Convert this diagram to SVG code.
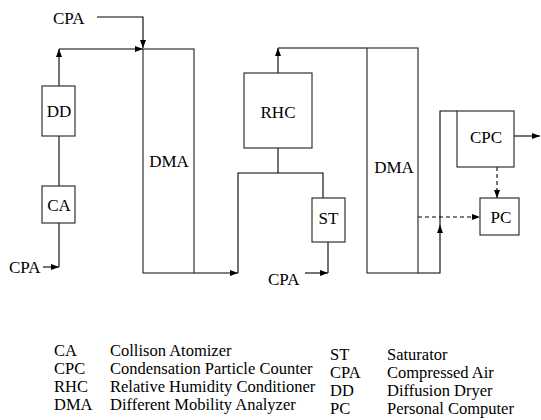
<svg xmlns="http://www.w3.org/2000/svg" width="541" height="420" viewBox="0 0 541 420">
<defs>
<style>
text{font-family:"Liberation Serif","Times New Roman",serif;fill:#000}
.lbl{font-size:17px;text-anchor:middle}
.lab{font-size:17px}
.leg{font-size:16.5px}
.box{fill:#fff;stroke:#333;stroke-width:1.2}
.ln{fill:none;stroke:#000;stroke-width:1.1}
.dash{fill:none;stroke:#000;stroke-width:1.1;stroke-dasharray:4,3}
</style>
<marker id="ah" viewBox="0 0 8 6" refX="8" refY="3" markerWidth="8" markerHeight="6" orient="auto" markerUnits="userSpaceOnUse"><path d="M0,0 L8,3 L0,6 z" fill="#000"/></marker>
</defs>
<rect width="541" height="420" fill="#fff"/>
<g id="connectors">
<path class="ln" d="M97,17 H143 V48" marker-end="url(#ah)"/>
<path class="ln" d="M59,86 V49" marker-end="url(#ah)"/>
<path class="ln" d="M59,49 H143" marker-end="url(#ah)"/>
<path class="ln" d="M59,136 V186"/>
<path class="ln" d="M59,223 V267"/>
<path class="ln" d="M43,267 H59" marker-end="url(#ah)"/>
<path class="ln" d="M194,273 H238" marker-end="url(#ah)"/>
<path class="ln" d="M238,273 V173 H323 V198"/>
<path class="ln" d="M278,148 V173"/>
<path class="ln" d="M278,73 V48" marker-end="url(#ah)"/>
<path class="ln" d="M278,48 H367"/>
<path class="ln" d="M328,242 V273"/>
<path class="ln" d="M305,273 H328" marker-end="url(#ah)"/>
<path class="ln" d="M418,273 H440 V225" marker-end="url(#ah)"/>
<path class="ln" d="M440,226 V111 H457"/>
<path class="ln" d="M514,136 H540" marker-end="url(#ah)"/>
<path class="dash" d="M497,167 V198" marker-end="url(#ah)"/>
<path class="dash" d="M418,217 H480" marker-end="url(#ah)"/>
</g>
<g id="cpa1"><text class="lab" x="53" y="24">CPA</text></g>
<g id="cpa2"><text class="lab" x="9" y="273">CPA</text></g>
<g id="cpa3"><text class="lab" x="268" y="285">CPA</text></g>
<g id="dd"><rect class="box" x="42" y="86" width="33" height="50"/><text class="lbl" x="59" y="117">DD</text></g>
<g id="ca"><rect class="box" x="42" y="186" width="33" height="37"/><text class="lbl" x="59" y="211">CA</text></g>
<g id="dma1"><rect class="box" x="143" y="49" width="51" height="224"/><text class="lbl" x="169" y="167">DMA</text></g>
<g id="rhc"><rect class="box" x="244" y="73" width="68" height="75"/><text class="lbl" x="278" y="118">RHC</text></g>
<g id="st"><rect class="box" x="312" y="198" width="33" height="44"/><text class="lbl" x="328.5" y="224">ST</text></g>
<g id="dma2"><rect class="box" x="367" y="48" width="51" height="225"/><text class="lbl" x="394" y="173">DMA</text></g>
<g id="cpc"><rect class="box" x="457" y="111" width="57" height="56"/><text class="lbl" x="486" y="143">CPC</text></g>
<g id="pc"><rect class="box" x="480" y="198" width="39" height="37"/><text class="lbl" x="501" y="223">PC</text></g>
<g id="legend">
<text class="leg" x="54" y="356">CA</text><text class="leg" x="110" y="356">Collison Atomizer</text>
<text class="leg" x="54" y="374">CPC</text><text class="leg" x="110" y="374">Condensation Particle Counter</text>
<text class="leg" x="54" y="392">RHC</text><text class="leg" x="110" y="392">Relative Humidity Conditioner</text>
<text class="leg" x="54" y="410">DMA</text><text class="leg" x="110" y="410">Different Mobility Analyzer</text>
<text class="leg" x="330" y="360">ST</text><text class="leg" x="387" y="360">Saturator</text>
<text class="leg" x="330" y="378">CPA</text><text class="leg" x="387" y="378">Compressed Air</text>
<text class="leg" x="330" y="396">DD</text><text class="leg" x="387" y="396">Diffusion Dryer</text>
<text class="leg" x="330" y="414">PC</text><text class="leg" x="387" y="414">Personal Computer</text>
</g>
</svg>
